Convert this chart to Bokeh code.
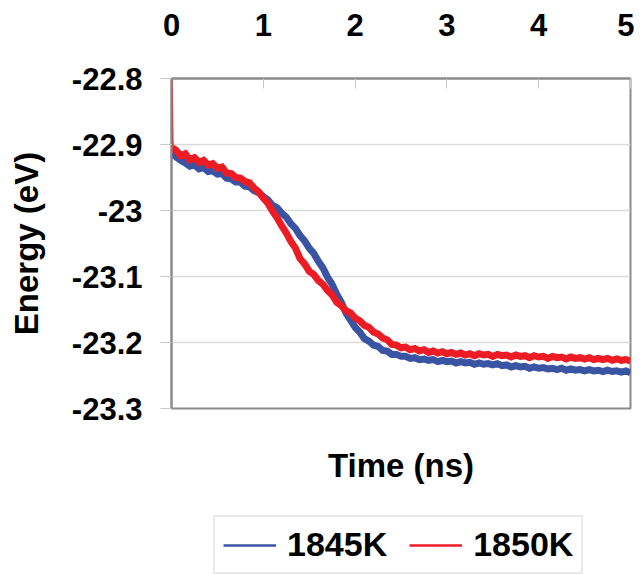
from bokeh.plotting import figure
from bokeh.layouts import column
from bokeh.models import (ColumnDataSource, Range1d, FixedTicker, LinearAxis,
                          Legend, LegendItem)
from bokeh.embed import file_html
from bokeh.resources import INLINE

# ---------------- data ----------------
time_ns = [0.00, 0.01, 0.05, 0.10, 0.15, 0.20, 0.25, 0.30, 0.35, 0.40, 0.45,
           0.50, 0.55, 0.60, 0.65, 0.70, 0.75, 0.80, 0.85, 0.90, 0.95,
           1.00, 1.05, 1.10, 1.15, 1.20, 1.25, 1.30, 1.35, 1.40, 1.45,
           1.50, 1.55, 1.60, 1.65, 1.70, 1.75, 1.80, 1.85, 1.90, 1.95,
           2.00, 2.05, 2.10, 2.15, 2.20, 2.25, 2.30, 2.35, 2.40, 2.45,
           2.50, 2.55, 2.60, 2.65, 2.70, 2.75, 2.80, 2.85, 2.90, 2.95,
           3.00, 3.05, 3.10, 3.15, 3.20, 3.25, 3.30, 3.35, 3.40, 3.45,
           3.50, 3.55, 3.60, 3.65, 3.70, 3.75, 3.80, 3.85, 3.90, 3.95,
           4.00, 4.05, 4.10, 4.15, 4.20, 4.25, 4.30, 4.35, 4.40, 4.45,
           4.50, 4.55, 4.60, 4.65, 4.70, 4.75, 4.80, 4.85, 4.90, 4.95,
           5.00]

energy_1845K = [-22.886, -22.912, -22.919, -22.924, -22.928, -22.933, -22.931, -22.937, -22.935, -22.941, -22.940,
                -22.945, -22.944, -22.951, -22.952, -22.957, -22.957, -22.963, -22.964, -22.970, -22.973,
                -22.979, -22.984, -22.992, -22.996, -23.004, -23.010, -23.020, -23.027, -23.038, -23.046,
                -23.057, -23.065, -23.077, -23.087, -23.101, -23.112, -23.127, -23.139, -23.155, -23.166,
                -23.177, -23.184, -23.194, -23.198, -23.204, -23.206, -23.212, -23.213, -23.218, -23.218,
                -23.221, -23.221, -23.224, -23.223, -23.226, -23.225, -23.227, -23.226, -23.229, -23.227,
                -23.229, -23.228, -23.231, -23.229, -23.231, -23.230, -23.233, -23.231, -23.233, -23.232,
                -23.234, -23.232, -23.235, -23.234, -23.237, -23.235, -23.237, -23.236, -23.239, -23.237,
                -23.239, -23.238, -23.240, -23.239, -23.241, -23.239, -23.242, -23.240, -23.242, -23.241,
                -23.243, -23.241, -23.243, -23.242, -23.244, -23.242, -23.244, -23.243, -23.245, -23.243,
                -23.246]

energy_1850K = [-22.800, -22.905, -22.909, -22.917, -22.914, -22.923, -22.920, -22.927, -22.924, -22.931, -22.929,
                -22.936, -22.934, -22.943, -22.944, -22.950, -22.951, -22.956, -22.958, -22.966, -22.972,
                -22.981, -22.989, -23.001, -23.011, -23.023, -23.034, -23.047, -23.057, -23.073, -23.081,
                -23.092, -23.097, -23.106, -23.112, -23.121, -23.128, -23.139, -23.144, -23.152, -23.155,
                -23.163, -23.167, -23.174, -23.177, -23.184, -23.187, -23.193, -23.196, -23.203, -23.204,
                -23.208, -23.207, -23.211, -23.209, -23.213, -23.211, -23.215, -23.213, -23.216, -23.214,
                -23.217, -23.215, -23.218, -23.216, -23.219, -23.217, -23.220, -23.217, -23.219, -23.218,
                -23.221, -23.218, -23.220, -23.219, -23.222, -23.219, -23.221, -23.220, -23.223, -23.220,
                -23.222, -23.221, -23.224, -23.221, -23.223, -23.222, -23.225, -23.222, -23.224, -23.223,
                -23.225, -23.223, -23.226, -23.224, -23.226, -23.224, -23.227, -23.225, -23.227, -23.226,
                -23.228]

series_names = ["1845K", "1850K"]
series_colors = ["#3a54a4", "#ed1c24"]

x_ticks = [0, 1, 2, 3, 4, 5]
y_ticks = [-23.3, -23.2, -23.1, -23.0, -22.9, -22.8]
y_tick_labels = ["-23.3", "-23.2", "-23.1", "-23", "-22.9", "-22.8"]
grid_ticks = [-23.2, -23.1, -23.0, -22.9]

FONT = "Liberation Sans"

# ---------------- main figure ----------------
p = figure(width=634, height=500, output_backend="svg", toolbar_location=None,
           x_axis_location="above",
           x_range=Range1d(0, 5), y_range=Range1d(-23.3, -22.8),
           min_border_left=171, min_border_right=4,
           min_border_top=78, min_border_bottom=92)

p.outline_line_color = "#8a8a8a"
p.outline_line_width = 2
p.background_fill_color = "white"
p.border_fill_color = "white"

# top x axis
xa = p.xaxis[0]
xa.ticker = FixedTicker(ticks=x_ticks)
xa.axis_line_color = "#8a8a8a"
xa.axis_line_width = 2
xa.major_tick_in = 10
xa.major_tick_out = 0
xa.major_tick_line_color = "#c8c8c8"
xa.minor_tick_line_color = None
xa.major_label_standoff = 43
xa.major_label_text_font = FONT
xa.major_label_text_font_style = "bold"
xa.major_label_text_font_size = "31px"
xa.major_label_text_color = "black"

# left y axis
ya = p.yaxis[0]
ya.ticker = FixedTicker(ticks=y_ticks)
ya.major_label_overrides = dict(zip(y_ticks, y_tick_labels))
ya.axis_line_color = "#8a8a8a"
ya.axis_line_width = 2
ya.major_tick_in = 0
ya.major_tick_out = 11
ya.major_tick_line_color = "#c8c8c8"
ya.minor_tick_line_color = None
ya.major_label_standoff = 18
ya.major_label_text_font = FONT
ya.major_label_text_font_style = "bold"
ya.major_label_text_font_size = "31px"
ya.major_label_text_color = "black"
ya.axis_label = "Energy (eV)"
ya.axis_label_text_font = FONT
ya.axis_label_text_font_style = "bold"
ya.axis_label_text_font_size = "33px"
ya.axis_label_text_color = "black"
ya.axis_label_standoff = 24

# bottom axis carrying only the title
ta = LinearAxis(ticker=FixedTicker(ticks=[]), axis_label="Time (ns)")
ta.axis_line_color = None
ta.major_tick_line_color = None
ta.minor_tick_line_color = None
ta.major_tick_out = 0
ta.major_tick_in = 0
ta.major_label_standoff = 0
ta.axis_label_standoff = 38
ta.axis_label_text_font = FONT
ta.axis_label_text_font_style = "bold"
ta.axis_label_text_font_size = "33px"
ta.axis_label_text_color = "black"
p.add_layout(ta, "below")

p.xgrid.grid_line_color = None
p.ygrid.ticker = FixedTicker(ticks=grid_ticks)
p.ygrid.grid_line_color = "#dadada"
p.ygrid.grid_line_width = 1.5

# ---------------- data lines ----------------
src_start = ColumnDataSource(dict(t=time_ns[:2], b=energy_1845K[:2], r=energy_1850K[:2]))
src_rest = ColumnDataSource(dict(t=time_ns[1:], b=energy_1845K[1:], r=energy_1850K[1:]))

p.line("t", "b", source=src_start, line_color=series_colors[0], line_width=2.5)
p.line("t", "b", source=src_rest, line_color=series_colors[0], line_width=7, line_join="miter")
p.line("t", "r", source=src_start, line_color=series_colors[1], line_width=2.5)
p.line("t", "r", source=src_rest, line_color=series_colors[1], line_width=7, line_join="miter")

# ---------------- legend strip ----------------
pl = figure(width=634, height=75, output_backend="svg", toolbar_location=None,
            x_axis_location=None, y_axis_location=None,
            x_range=Range1d(0, 1), y_range=Range1d(0, 1),
            min_border_left=171, min_border_right=4,
            min_border_top=0, min_border_bottom=0)
pl.outline_line_color = None
pl.grid.visible = False
proxy = ColumnDataSource(dict(x=[float("nan")], y=[float("nan")]))
r_b = pl.line("x", "y", source=proxy, line_color=series_colors[0], line_width=2.5)
r_r = pl.line("x", "y", source=proxy, line_color=series_colors[1], line_width=2.5)

legend = Legend(items=[LegendItem(label=series_names[0], renderers=[r_b]),
                       LegendItem(label=series_names[1], renderers=[r_r])],
                orientation="horizontal", location=(42, 1))
legend.label_text_font = FONT
legend.label_text_font_style = "bold"
legend.label_text_font_size = "34px"
legend.label_text_color = "black"
legend.glyph_width = 53
legend.glyph_height = 20
legend.label_standoff = 11
legend.spacing = 22
legend.padding = 8
legend.margin = 0
legend.border_line_color = "#d4d4d4"
legend.border_line_width = 2
legend.background_fill_color = "white"
pl.add_layout(legend, "center")

open("out.html", "w").write(file_html(column(p, pl, spacing=0), INLINE))
